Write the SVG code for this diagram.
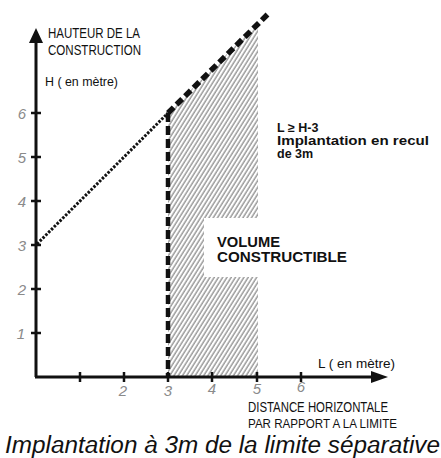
<svg xmlns="http://www.w3.org/2000/svg" width="441" height="458" viewBox="0 0 441 458">
  <defs>
    <pattern id="hatch" patternUnits="userSpaceOnUse" width="3.6" height="10" patternTransform="rotate(32)">
      <line x1="1" y1="0" x2="1" y2="10" stroke="#444" stroke-width="0.85"/>
    </pattern>
  </defs>
  <style>
    .axis{stroke:#111;stroke-width:3;fill:none}
    .tick{stroke:#111;stroke-width:2.5}
    .num{font-family:"Liberation Sans",Arial,sans-serif;font-size:15px;fill:#8a8a8a;font-style:italic;text-anchor:middle}
    .hand{font-family:"Liberation Sans",Arial,sans-serif;fill:#111}
    .bold{font-family:"Liberation Sans",Arial,sans-serif;font-weight:bold;fill:#111}
  </style>
  <rect width="441" height="458" fill="#fff"/>

  <g id="hatched-volume">
    <polygon points="168,377 168,113 258,23 258,377" fill="url(#hatch)"/>
    <rect x="204" y="218" width="60" height="59" fill="#fff"/>
  </g>

  <g id="axes">
    <line class="axis" x1="36" y1="40" x2="36" y2="377"/>
    <line class="axis" x1="35" y1="377" x2="374" y2="377"/>
    <polygon points="36,28 29,43 43,43" fill="#111"/>
    <polygon points="388,377 371,371 371,383" fill="#111"/>
    <g class="tick">
      <line x1="31" y1="113" x2="41" y2="113"/>
      <line x1="31" y1="157" x2="41" y2="157"/>
      <line x1="31" y1="201" x2="41" y2="201"/>
      <line x1="31" y1="245" x2="41" y2="245"/>
      <line x1="31" y1="289" x2="41" y2="289"/>
      <line x1="31" y1="333" x2="41" y2="333"/>
      <line x1="80" y1="372" x2="80" y2="382"/>
      <line x1="124" y1="372" x2="124" y2="382"/>
      <line x1="168" y1="372" x2="168" y2="382"/>
      <line x1="212" y1="372" x2="212" y2="382"/>
      <line x1="257" y1="372" x2="257" y2="382"/>
      <line x1="301" y1="372" x2="301" y2="382"/>
    </g>
    <g id="y-labels">
      <text class="num" x="22" y="119">6</text>
      <text class="num" x="22" y="163">5</text>
      <text class="num" x="22" y="207">4</text>
      <text class="num" x="22" y="251">3</text>
      <text class="num" x="22" y="295">2</text>
      <text class="num" x="21" y="339">1</text>
    </g>
    <g id="x-labels">
      <text class="num" x="123" y="396">2</text>
      <text class="num" x="168" y="396">3</text>
      <text class="num" x="212" y="394">4</text>
      <text class="num" x="257" y="394">5</text>
      <text class="num" x="301" y="392">6</text>
    </g>
  </g>

  <g id="connectors">
    <line x1="37" y1="244" x2="168" y2="113" stroke="#111" stroke-width="3" stroke-dasharray="2.5 1.5"/>
    <line x1="168" y1="113" x2="270" y2="12" stroke="#111" stroke-width="5.5" stroke-dasharray="8 4"/>
    <line x1="168" y1="113" x2="168" y2="377" stroke="#111" stroke-width="4.5" stroke-dasharray="9 4"/>
  </g>

  <g id="label-y-axis">
    <text class="hand" x="48" y="38" font-size="15" textLength="92" lengthAdjust="spacingAndGlyphs">HAUTEUR DE LA</text>
    <text class="hand" x="48" y="55" font-size="15" textLength="93" lengthAdjust="spacingAndGlyphs">CONSTRUCTION</text>
    <text class="hand" x="45" y="86" font-size="13" textLength="73" lengthAdjust="spacingAndGlyphs">H ( en mètre)</text>
  </g>

  <g id="label-x-axis">
    <text class="hand" x="318" y="368" font-size="13" textLength="77" lengthAdjust="spacingAndGlyphs">L ( en mètre)</text>
    <text class="hand" x="248" y="412" font-size="14" textLength="140" lengthAdjust="spacingAndGlyphs">DISTANCE HORIZONTALE</text>
    <text class="hand" x="248" y="428" font-size="13.5" textLength="149" lengthAdjust="spacingAndGlyphs">PAR RAPPORT A LA LIMITE</text>
  </g>

  <g id="rule-note">
    <text class="bold" x="277" y="132" font-size="12.5">L ≥ H-3</text>
    <text class="bold" x="277" y="145" font-size="12.5" textLength="152" lengthAdjust="spacingAndGlyphs">Implantation en recul</text>
    <text class="bold" x="277" y="158" font-size="12.5">de 3m</text>
  </g>

  <g id="volume-label">
    <text class="bold" x="217" y="247" font-size="14" textLength="63" lengthAdjust="spacingAndGlyphs">VOLUME</text>
    <text class="bold" x="217" y="262" font-size="14" textLength="130" lengthAdjust="spacingAndGlyphs">CONSTRUCTIBLE</text>
  </g>

  <g id="caption">
    <text x="5" y="453" font-family="'Liberation Sans',Arial,sans-serif" font-style="italic" font-size="23.5" fill="#111" textLength="435" lengthAdjust="spacingAndGlyphs">Implantation à 3m de la limite séparative</text>
  </g>
</svg>
